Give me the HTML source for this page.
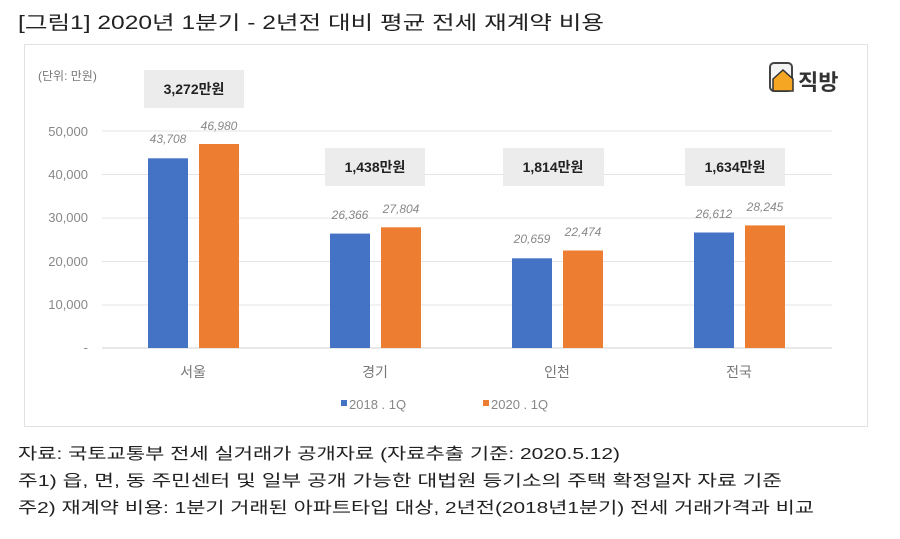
<!DOCTYPE html>
<html><head><meta charset="utf-8"><style>
body{margin:0;background:#fff;width:900px;height:534px;overflow:hidden;font-family:"Liberation Sans","Noto Sans CJK KR",sans-serif;}
</style></head><body>
<svg width="900" height="534" xmlns="http://www.w3.org/2000/svg" font-family="Liberation Sans, Noto Sans CJK KR, sans-serif">
<text x="18" y="29" font-size="19" fill="#222" textLength="586" lengthAdjust="spacingAndGlyphs">[그림1] 2020년 1분기 - 2년전 대비 평균 전세 재계약 비용</text>
<rect x="24.5" y="44.5" width="843" height="382" fill="#fff" stroke="#e2e2e2"/>
<text x="38" y="80" font-size="12" fill="#777">(단위: 만원)</text>
<g font-size="13" fill="#888" text-anchor="end">
<text x="88" y="136">50,000</text><text x="88" y="179">40,000</text><text x="88" y="222">30,000</text><text x="88" y="266">20,000</text><text x="88" y="309">10,000</text><text x="88" y="352">-</text>
</g>
<g stroke="#e4e4e4" stroke-width="1">
<line x1="102" y1="131" x2="832" y2="131"/><line x1="102" y1="174.5" x2="832" y2="174.5"/><line x1="102" y1="218" x2="832" y2="218"/><line x1="102" y1="261.5" x2="832" y2="261.5"/><line x1="102" y1="305" x2="832" y2="305"/>
</g>
<line x1="102" y1="348" x2="832" y2="348" stroke="#d0d0d0"/>
<g fill="#4472c4">
<rect x="148" y="158.3" width="40" height="189.7"/><rect x="330" y="233.6" width="40" height="114.4"/><rect x="512" y="258.3" width="40" height="89.7"/><rect x="694" y="232.5" width="40" height="115.5"/>
</g>
<g fill="#ed7d31">
<rect x="199" y="144" width="40" height="204"/><rect x="381" y="227.3" width="40" height="120.7"/><rect x="563" y="250.5" width="40" height="97.5"/><rect x="745" y="225.4" width="40" height="122.6"/>
</g>
<g font-size="12" fill="#888" font-style="italic" text-anchor="middle">
<text x="168" y="143">43,708</text><text x="219" y="130">46,980</text>
<text x="350" y="219">26,366</text><text x="401" y="213">27,804</text>
<text x="532" y="243">20,659</text><text x="583" y="236">22,474</text>
<text x="714" y="218">26,612</text><text x="765" y="211">28,245</text>
</g>
<g fill="#ececec">
<rect x="144" y="70" width="100" height="38"/><rect x="325" y="148" width="100" height="38"/><rect x="503" y="148" width="101" height="38"/><rect x="685" y="148" width="100" height="38"/>
</g>
<g font-size="14" font-weight="bold" fill="#222" text-anchor="middle">
<text x="194" y="94">3,272만원</text><text x="375" y="172">1,438만원</text><text x="553" y="172">1,814만원</text><text x="735" y="172">1,634만원</text>
</g>
<g font-size="14" fill="#777" text-anchor="middle">
<text x="193" y="377">서울</text><text x="375" y="377">경기</text><text x="557" y="377">인천</text><text x="739" y="377">전국</text>
</g>
<rect x="341" y="400" width="6" height="6" fill="#4472c4"/>
<text x="349" y="409" font-size="13" fill="#888">2018 . 1Q</text>
<rect x="483" y="400" width="6" height="6" fill="#ed7d31"/>
<text x="491" y="409" font-size="13" fill="#888">2020 . 1Q</text>
<rect x="770" y="63" width="22" height="28" rx="4" fill="#f4f4f4" stroke="#444" stroke-width="2"/>
<path d="M773 79 L783 70 L793 79 L793 91 L773 91 Z" fill="#f5a623" stroke="#333" stroke-width="1.5"/>
<text x="798" y="90" font-size="22" font-weight="bold" fill="#333">직방</text>
<g font-size="16" fill="#222" lengthAdjust="spacingAndGlyphs">
<text x="18" y="459" textLength="602" lengthAdjust="spacingAndGlyphs">자료: 국토교통부 전세 실거래가 공개자료 (자료추출 기준: 2020.5.12)</text>
<text x="18" y="486" textLength="764" lengthAdjust="spacingAndGlyphs">주1) 읍, 면, 동 주민센터 및 일부 공개 가능한 대법원 등기소의 주택 확정일자 자료 기준</text>
<text x="18" y="513" textLength="796" lengthAdjust="spacingAndGlyphs">주2) 재계약 비용: 1분기 거래된 아파트타입 대상, 2년전(2018년1분기) 전세 거래가격과 비교</text>
</g>
</svg>
</body></html>
